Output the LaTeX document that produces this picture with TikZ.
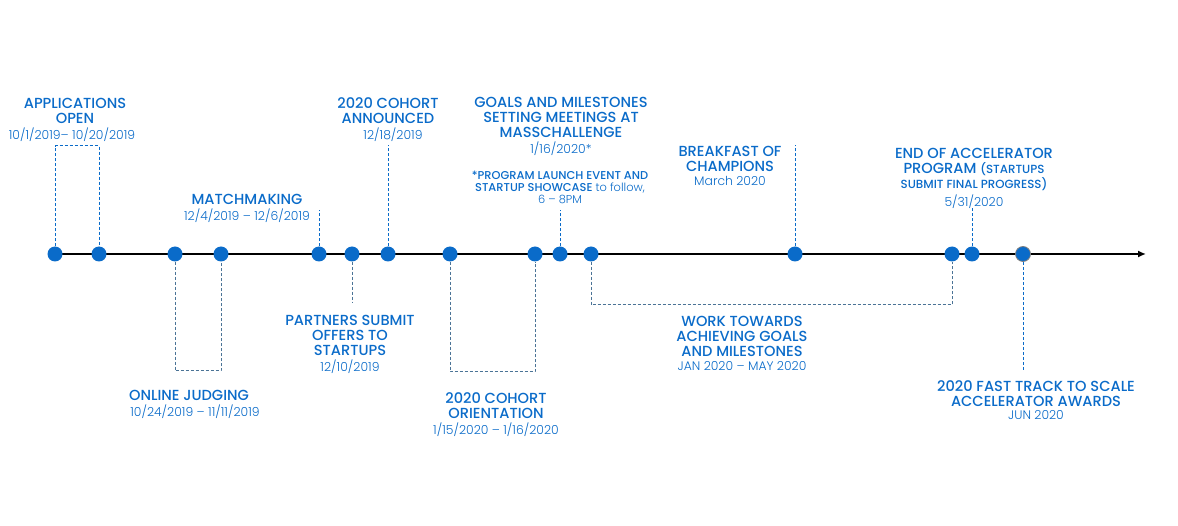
\documentclass[tikz,border=0pt]{standalone}
\usepackage{fontspec}
\setmainfont{Poppins}
\newfontfamily\headfont{Poppins Medium}
\newfontfamily\datefont{Poppins Light}
\usepackage{tikz}
\usetikzlibrary{arrows.meta,positioning}
\definecolor{tlBlue}{HTML}{0A6BC9}
\definecolor{tlSteel}{HTML}{4A7396}

\tikzset{
  dot/.style={circle, fill=tlBlue, inner sep=0pt, minimum size=15pt},
  lead/.style={tlBlue, dash pattern=on 3pt off 2pt, line width=1pt},
  span/.style={tlSteel, dash pattern=on 3pt off 2pt, line width=1pt},
  head/.style={tlBlue, font=\headfont\fontsize{14.6}{15}\selectfont, align=center, inner sep=0pt, anchor=north},
  note/.style={tlBlue, font=\headfont\fontsize{11.4}{11.8}\selectfont, align=center, inner sep=0pt, anchor=north},
  when/.style={tlBlue, font=\datefont\fontsize{12.4}{13}\selectfont, align=center, inner sep=0pt},
}
\newcommand{\smallcaps}{\fontsize{11.8}{15}\selectfont}

\begin{document}
\begin{tikzpicture}[x=1pt, y=-1pt]
        \useasboundingbox (0,0) rectangle (1178,526);
        % axis
        \coordinate (start) at (55,254);
        \coordinate (end) at (1146,254);
        \draw[line width=2.2pt, -{Latex[length=8pt,width=7pt]}] (start) -- (end);
        \foreach \x/\n in {55/ao1, 99/ao2, 175/oj1, 221/oj2, 319/mm, 352/ps, 388/ca, 450/or1, 535/or2, 560/pl, 591/wt1, 795/bf, 952/wt2, 972/ea}
            \node[dot] (\n) at (\x,254) {};
        \node[dot, draw=gray, line width=0.8pt] (ft) at (1023,254) {};

        % dashed leads and spans
        \draw[lead] (ao1) -- (ao1 |- 0,146) -| (ao2);
        \draw[span] (oj1) -- (oj1 |- 0,371) -| (oj2);
        \draw[span] (or1) -- (or1 |- 0,372) -| (or2);
        \draw[span] (wt1) -- (wt1 |- 0,305) -| (wt2);
        \draw[span] (ps) -- (ps |- 0,302);
        \foreach \n/\y in {mm/210, ca/145, pl/210, bf/145, ea/207, ft/370}
            \draw[lead] (\n) -- (\n |- 0,\y);

        % labels above
        \node[head] (aoT) at (75,98) {APPLICATIONS\\OPEN};
        \node[when, below=4pt of aoT, xshift=-3pt] {10/1/2019– 10/20/2019};
        \node[head] (caT) at (388,97) {2020 COHORT\\ANNOUNCED};
        \node[when, below=4pt of caT, xshift=5pt] {12/18/2019};
        \node[head] (mmT) at (247,194) {MATCHMAKING};
        \node[when, below=4pt of mmT] {12/4/2019 – 12/6/2019};
        \node[head] (gmT) at (561,97) {GOALS AND MILESTONES\\SETTING MEETINGS AT\\MASSCHALLENGE};
        \node[when, below=4pt of gmT] {1/16/2020*};
        \node[note] (plT) at (560,171) {*PROGRAM LAUNCH EVENT AND\\STARTUP SHOWCASE {\datefont to follow,}\\{\datefont 6 – 8PM}};
        \node[head] (bfT) at (730,146) {BREAKFAST OF\\CHAMPIONS};
        \node[when, below=4pt of bfT] {March 2020};
        \node[head] (eaT) at (974,148) {END OF ACCELERATOR\\PROGRAM {\smallcaps(STARTUPS}\\{\smallcaps SUBMIT FINAL PROGRESS)}};
        \node[when, below=4pt of eaT] {5/31/2020};

        % labels below
        \node[head] (psT) at (350,315) {PARTNERS SUBMIT\\OFFERS TO\\STARTUPS};
        \node[when, below=4pt of psT] {12/10/2019};
        \node[head] (ojT) at (189,390) {ONLINE JUDGING};
        \node[when, below=4pt of ojT, xshift=6pt] {10/24/2019 – 11/11/2019};
        \node[head] (orT) at (496,392) {2020 COHORT\\ORIENTATION};
        \node[when, below=4pt of orT] {1/15/2020 – 1/16/2020};
        \node[head] (wtT) at (742,316) {WORK TOWARDS\\ACHIEVING GOALS\\AND MILESTONES};
        \node[when, below=4pt of wtT] {JAN 2020 – MAY 2020};
        \node[head] (ftT) at (1036,380) {2020 FAST TRACK TO SCALE\\ACCELERATOR AWARDS};
        \node[when, below=4pt of ftT] {JUN 2020};
    \end{tikzpicture}
\end{document}
